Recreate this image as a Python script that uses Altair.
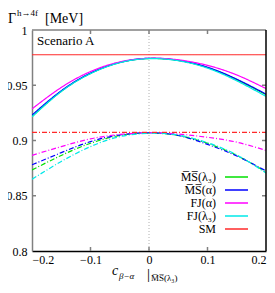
import altair as alt
import pandas as pd

# ---- data ----
x_vals = [-0.2, -0.15, -0.1, -0.05, 0.0, 0.05, 0.1, 0.15, 0.2]

# full width (solid)
ms_l3_full = [0.9216, 0.9445, 0.9607, 0.9705, 0.9742, 0.9724, 0.9660, 0.9550, 0.9415]
ms_a_full = [0.9230, 0.9450, 0.9610, 0.9707, 0.9744, 0.9726, 0.9663, 0.9555, 0.9420]
fj_a_full = [0.9286, 0.9480, 0.9624, 0.9711, 0.9744, 0.9730, 0.9680, 0.9593, 0.9470]
fj_l3_full = [0.9214, 0.9443, 0.9605, 0.9704, 0.9741, 0.9722, 0.9655, 0.9540, 0.9400]
sm_full = [0.9776] * 9

# second set (dash-dot)
ms_l3_dd = [0.8733, 0.8865, 0.8975, 0.9045, 0.9068, 0.9045, 0.8975, 0.8865, 0.8715]
ms_a_dd = [0.8780, 0.8890, 0.8990, 0.9050, 0.9070, 0.9045, 0.8965, 0.8860, 0.8725]
fj_a_dd = [0.8866, 0.8945, 0.9015, 0.9055, 0.9070, 0.9059, 0.9029, 0.8985, 0.8910]
fj_l3_dd = [0.8650, 0.8810, 0.8945, 0.9035, 0.9065, 0.9050, 0.8980, 0.8870, 0.8705]
sm_dd = [0.9074] * 9

series_names = ["M\u0305S\u0305(λ₃)", "M\u0305S\u0305(α)", "FJ(α)", "FJ(λ₃)", "SM"]
series_colors = ["#00e000", "#0000ff", "#ff00ff", "#00e8e8", "#ff2a2a"]
draw_order = [0, 1, 2, 3, 4]

x_ticks = [-0.2, -0.1, 0.0, 0.1, 0.2]
x_minor = [-0.1, 0.0, 0.1]
y_ticks = [0.8, 0.85, 0.9, 0.95, 1.0]
y_minor = [0.85, 0.9, 0.95]

full_sets = [ms_l3_full, ms_a_full, fj_a_full, fj_l3_full, sm_full]
dd_sets = [ms_l3_dd, ms_a_dd, fj_a_dd, fj_l3_dd, sm_dd]

rows = []
for name, vals in zip(series_names, full_sets):
    for xv, yv in zip(x_vals, vals):
        rows.append({"x": xv, "y": yv, "series": name, "style": "full"})
for name, vals in zip(series_names, dd_sets):
    for xv, yv in zip(x_vals, vals):
        rows.append({"x": xv, "y": yv, "series": name, "style": "dd"})
df = pd.DataFrame(rows)

W, H = 234, 221
FONT = "Liberation Serif"

xscale = alt.Scale(domain=[-0.2, 0.2], nice=False, zero=False)
yscale = alt.Scale(domain=[0.8, 1.0], nice=False, zero=False)
cscale = alt.Scale(domain=series_names, range=series_colors)
dscale = alt.Scale(domain=["full", "dd"], range=[[1, 0], [5, 2, 1, 2]])

xaxis = alt.Axis(values=x_ticks, tickSize=0, domainColor="black", domainWidth=1.5,
                 labelFont=FONT, labelFontSize=12, labelColor="black", labelPadding=3,
                 grid=False, title="",
                 labelExpr="replace(format(datum.value, '~g'), '-', '\u2212')")
yaxis = alt.Axis(values=y_ticks, tickSize=0, domainColor="#808080", domainWidth=1.5,
                 labelFont=FONT, labelFontSize=12, labelColor="black", labelPadding=5,
                 grid=False, title="", labelExpr="format(datum.value, '~g')")

zero_df = pd.DataFrame({"x": [0.0]})
zero_line = alt.Chart(zero_df).mark_rule(color="#b0b0b0", strokeDash=[1, 2], strokeWidth=1).encode(
    x=alt.X("x:Q", scale=xscale, axis=xaxis),
    y=alt.value(0), y2=alt.value(H),
)
yaxis_layer = alt.Chart(pd.DataFrame({"y": [0.9]})).mark_rule(opacity=0).encode(
    y=alt.Y("y:Q", scale=yscale, axis=yaxis),
    x=alt.value(0), x2=alt.value(1),
)

layers = [zero_line, yaxis_layer]

for i in draw_order:
    name = series_names[i]
    layers.append(
        alt.Chart(df).transform_filter(alt.datum.series == name)
        .mark_line(strokeWidth=1.2, interpolate="natural", clip=True)
        .encode(
            x=alt.X("x:Q", scale=xscale),
            y=alt.Y("y:Q", scale=yscale),
            color=alt.Color("series:N", scale=cscale, legend=None),
            strokeDash=alt.StrokeDash("style:N", scale=dscale, legend=None),
        )
    )

# inward ticks
xm = pd.DataFrame({"x": x_minor})
ym = pd.DataFrame({"y": y_minor})
tick_col = "#808080"
layers += [
    alt.Chart(xm).mark_rule(color=tick_col, strokeWidth=1.5).encode(
        x=alt.X("x:Q", scale=xscale), y=alt.value(0), y2=alt.value(4)),
    alt.Chart(xm).mark_rule(color=tick_col, strokeWidth=1.5).encode(
        x=alt.X("x:Q", scale=xscale), y=alt.value(H - 4), y2=alt.value(H)),
    alt.Chart(ym).mark_rule(color=tick_col, strokeWidth=1.5).encode(
        y=alt.Y("y:Q", scale=yscale), x=alt.value(0), x2=alt.value(4)),
    alt.Chart(ym).mark_rule(color=tick_col, strokeWidth=1.5).encode(
        y=alt.Y("y:Q", scale=yscale), x=alt.value(W - 4), x2=alt.value(W)),
]

# frame top / right
one = alt.Data(values=[{}])
layers += [
    alt.Chart(one).mark_rule(color="#808080", strokeWidth=1.5).encode(
        x=alt.value(0), x2=alt.value(W), y=alt.value(0)),
    alt.Chart(one).mark_rule(color="black", strokeWidth=1.5).encode(
        x=alt.value(W), y=alt.value(0), y2=alt.value(H)),
]

# legend (custom: labels left of line samples)
leg_df = pd.DataFrame({"series": series_names, "i": list(range(len(series_names)))})
leg_base = alt.Chart(leg_df).transform_calculate(py="147 + 13 * datum.i")
layers += [
    leg_base.mark_text(align="right", baseline="middle", font=FONT, fontSize=12, color="black").encode(
        x=alt.value(184), y=alt.Y("py:Q", scale=None), text="series:N"),
    leg_base.mark_rule(strokeWidth=1.5).encode(
        x=alt.value(193), x2=alt.value(216), y=alt.Y("py:Q", scale=None),
        color=alt.Color("series:N", scale=cscale, legend=None)),
]

def txt(t, x, y, size=13, style="normal", align="left", baseline="alphabetic"):
    return alt.Chart(one).mark_text(text=t, align=align, baseline=baseline, font=FONT,
                                    fontSize=size, fontStyle=style, color="black").encode(
        x=alt.value(x), y=alt.value(y))

layers += [
    txt("Scenario A", 5, 15),
    txt("Γ", -24, -7, size=14),
    txt("h→4f", -15, -14, size=9),
    txt("[MeV]", 13, -7, size=14),
    txt("c", 80, 245, size=14, style="italic"),
    txt("β−α", 87, 249, size=9, style="italic"),
    txt("|", 115, 249, size=15),
    txt("M\u0305S\u0305(λ₃)", 119, 251, size=9),
]

chart = alt.layer(*layers).properties(
    width=W, height=H,
    autosize=alt.AutoSizeParams(type="none"),
    padding={"left": 24, "top": 22, "right": 1, "bottom": 33},
).configure_view(strokeWidth=0)

chart.save("out.html", embed_options={"renderer": "svg", "actions": False})
